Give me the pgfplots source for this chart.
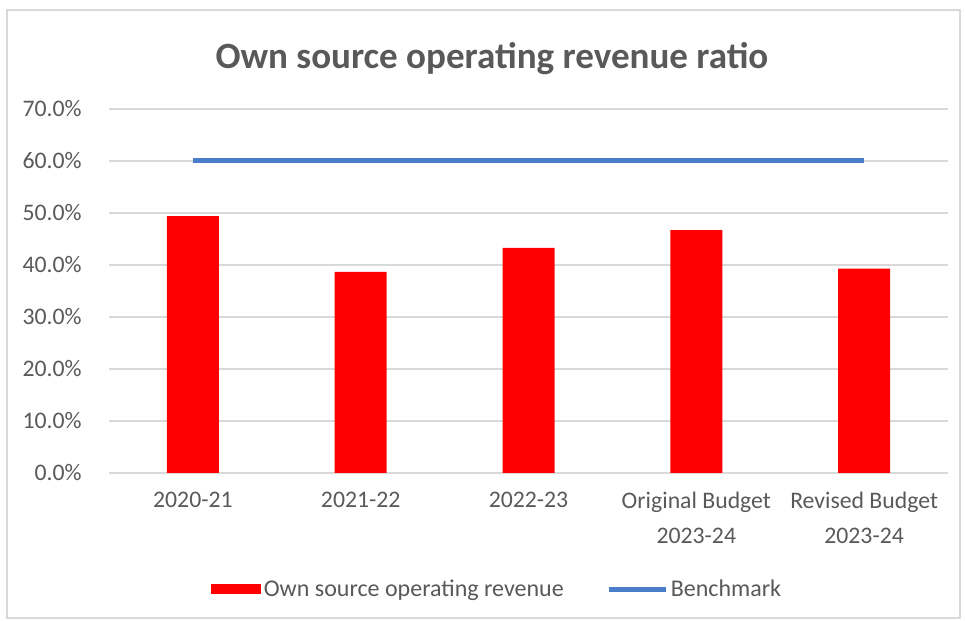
\documentclass[border=0pt]{standalone}
\usepackage{pgfplots}
\pgfplotsset{compat=1.18}
\usepackage{fontspec}
\setmainfont{Carlito}
\definecolor{txt}{HTML}{595959}
\definecolor{gridc}{HTML}{D9D9D9}
\definecolor{bench}{HTML}{4A7DCB}
\definecolor{barred}{HTML}{FF0000}
\begin{document}
\begin{tikzpicture}
% page frame, 1px = 0.75pt
\path[use as bounding box] (0,0) rectangle (723.75pt,465.75pt);
\draw[gridc, line width=1pt] (5.25pt,2.25pt) rectangle (720pt,458.25pt);
\node[font=\fontsize{27.8}{32}\selectfont\bfseries, text=txt] at (369pt,422pt) {Own source operating revenue ratio};
\begin{axis}[
  at={(81.75pt,111pt)}, anchor=south west,
  scale only axis, width=629.25pt, height=273pt,
  xmin=-0.5, xmax=4.5, ymin=0, ymax=70,
  xtick=data,
  xticklabels={2020-21,2021-22,2022-23,{Original Budget\\2023-24},{Revised Budget\\2023-24}},
  ytick={0,10,...,70},
  yticklabel={\pgfmathprintnumber[fixed,fixed zerofill,precision=1]{\tick}\%},
  /pgf/number format/assume math mode=true,
  major tick length=0pt,
  axis line style={draw=none},
  ymajorgrids, grid style={gridc, line width=1pt},
  tick label style={font=\fontsize{17.8}{26}\selectfont, text=txt},
  yticklabel style={xshift=-17pt},
  xticklabel style={align=center, yshift=-11pt},
  legend style={at={(0.463,-0.319)}, anchor=center, draw=none,
    font=\fontsize{18}{22}\selectfont, text=txt, legend columns=2,
    /tikz/every even column/.append style={column sep=30pt}},
  legend cell align=left,
]
\addplot[ybar, bar width=39pt, fill=barred, draw=none,
  legend image code/.code={\fill[barred] (-4pt,-4pt) rectangle (33.5pt,4pt);}]
  coordinates {(0,49.4) (1,38.7) (2,43.3) (3,46.7) (4,39.3)};
\addlegendentry{Own source operating revenue}
\addplot[bench, line width=3.75pt, no markers,
  legend image code/.code={\draw[bench, line width=3.75pt] (-9pt,0pt) -- (33.5pt,0pt);}]
  coordinates {(0,60) (1,60) (2,60) (3,60) (4,60)};
\addlegendentry{Benchmark}
\end{axis}
\end{tikzpicture}
\end{document}
